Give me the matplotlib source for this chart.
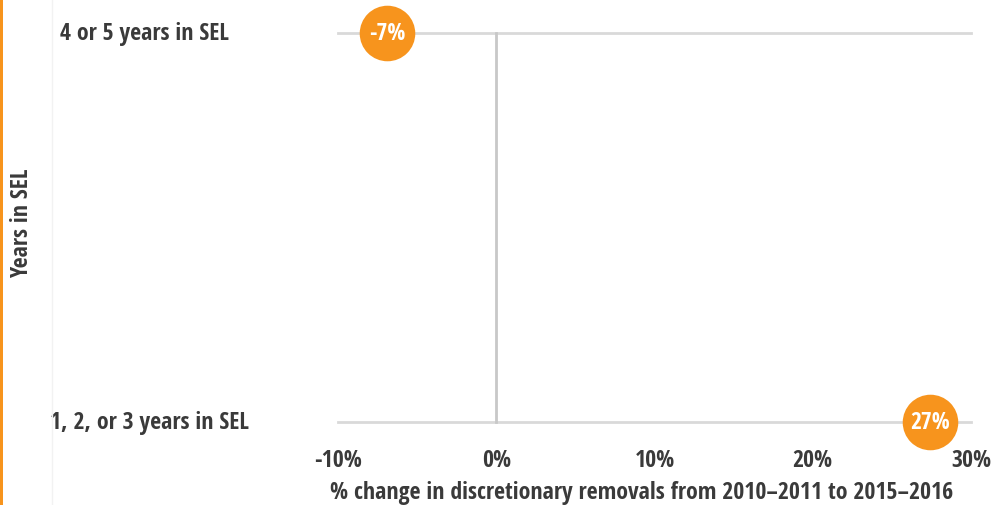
import numpy as np
import matplotlib
matplotlib.use("Agg")
import matplotlib.pyplot as plt

# --- data ---
categories = ["4 or 5 years in SEL", "1, 2, or 3 years in SEL"]
pct_change = [-6.9, 27.4]
x_ticks = [-10, 0, 10, 20, 30]

orange = "#F7941D"
text_col = "#3a3a3a"
grid_col = "#d9d9d9"

plt.rcParams['font.family'] = ['Open Sans Condensed', 'Roboto Condensed', 'Open Sans', 'DejaVu Sans']
font = dict(fontweight='bold', fontstretch='condensed', color=text_col)
fs = 17.2

W, H = 1004, 506
fig = plt.figure(figsize=(W / 100, H / 100), dpi=100)
fig.patch.set_facecolor("white")

# axes from x=338..971 px, y=34..422 px
ax = fig.add_axes([338 / W, 1 - 423 / H, (971 - 338) / W, (423 - 34) / H])
ax.set_xlim(-10, 30)
ax.set_ylim(1, 0)  # first category at top
for s in ax.spines.values():
    s.set_visible(False)

ypos = np.arange(len(categories))
for y in ypos:
    ax.plot([-10, 30], [y, y], color=grid_col, lw=2, zorder=1, clip_on=False)
ax.plot([0, 0], [0, 1], color="#c8c8c8", lw=2, zorder=1, clip_on=False)

ax.scatter(pct_change, ypos, s=40 ** 2, color=orange, zorder=3, clip_on=False, linewidths=0)
for v, y in zip(pct_change, ypos):
    ax.text(v, y, f"{v:.0f}%", ha='center', va='center', fontsize=17,
            color='white', fontweight='bold', fontstretch='condensed', zorder=4)

ax.set_yticks([])
ax.set_xticks(x_ticks)
ax.set_xticklabels([f"{t}%" for t in x_ticks], fontsize=fs, **font)
ax.tick_params(axis='x', length=0, pad=19)

# category labels on the left
label_x = [60, 50]
lab_tr = matplotlib.transforms.blended_transform_factory(fig.transFigure, ax.transData)
for lx, y, c in zip(label_x, ypos, categories):
    ax.text(lx / W, y, c, transform=lab_tr, ha='left', va='center', fontsize=fs, **font)

fig.text(22 / W, 1 - 223 / H, "Years in SEL", rotation=90, ha='center', va='center',
         fontsize=fs, **font)
fig.text(642 / W, 1 - 493 / H, "% change in discretionary removals from 2010\u20132011 to 2015\u20132016",
         ha='center', va='center', fontsize=fs, **font)

# orange bar at the left edge and faint panel border
fig.add_artist(plt.Rectangle((0, 0), 3 / W, 1, transform=fig.transFigure, color=orange, lw=0))
fig.add_artist(plt.Line2D([52 / W, 52 / W], [0, 1], transform=fig.transFigure, color="#f2f2f2", lw=1))

fig.savefig("out.png", dpi=100)
